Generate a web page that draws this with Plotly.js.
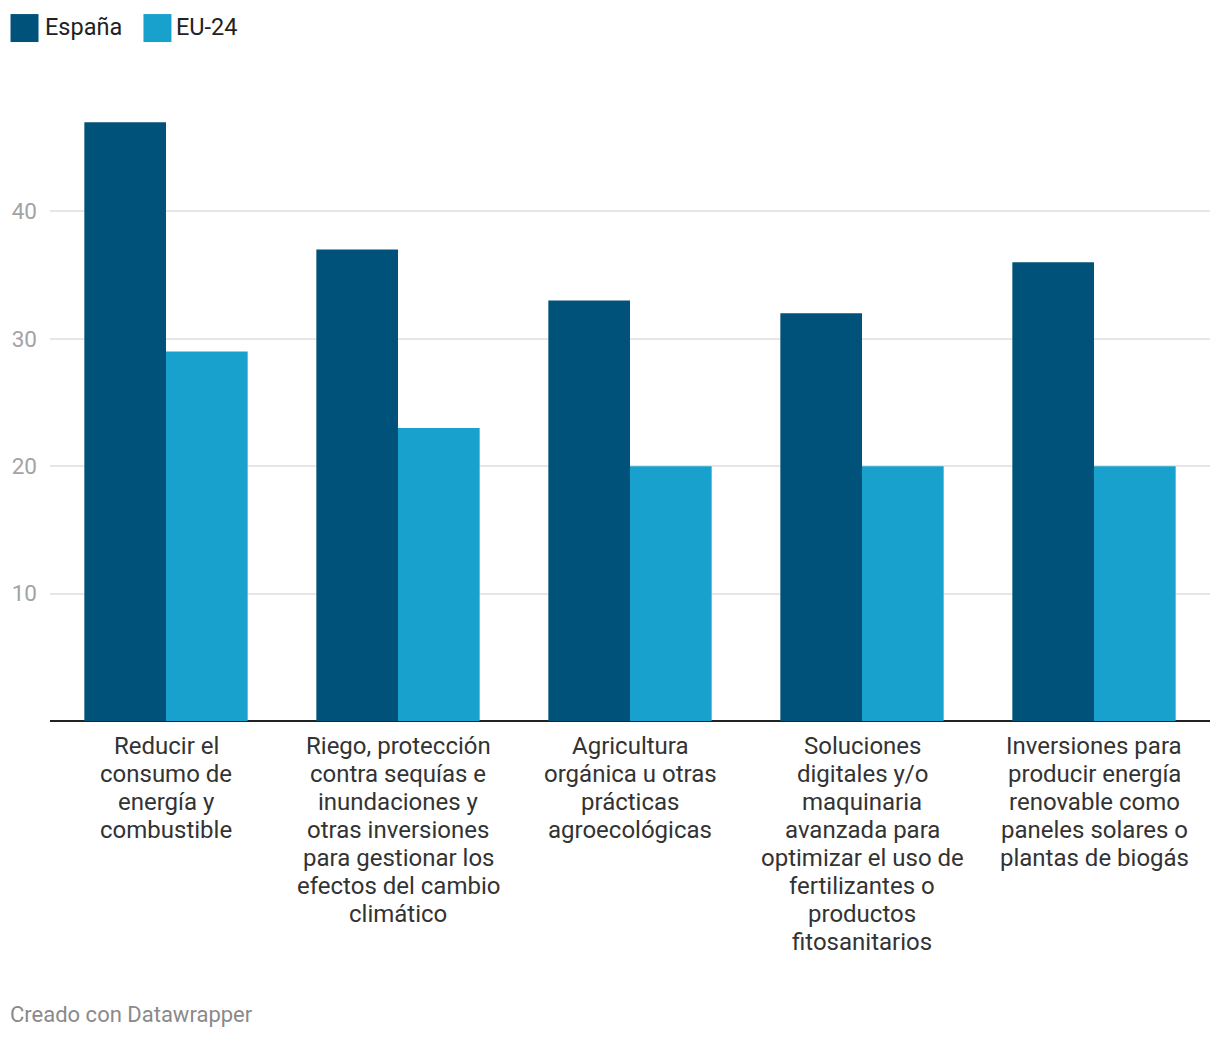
<!DOCTYPE html>
<html>
<head>
<meta charset="utf-8">
<script src="https://cdn.plot.ly/plotly-3.0.1.min.js"></script>
<style>
html,body{margin:0;padding:0;background:#fff;}
#chart{width:1220px;height:1040px;}
</style>
</head>
<body>
<div id="chart"></div>
<script>
const categories = [
  "Reducir el<br>consumo de<br>energía y<br>combustible",
  "Riego, protección<br>contra sequías e<br>inundaciones y<br>otras inversiones<br>para gestionar los<br>efectos del cambio<br>climático",
  "Agricultura<br>orgánica u otras<br>prácticas<br>agroecológicas",
  "Soluciones<br>digitales y/o<br>maquinaria<br>avanzada para<br>optimizar el uso de<br>fertilizantes o<br>productos<br>fitosanitarios",
  "Inversiones para<br>producir energía<br>renovable como<br>paneles solares o<br>plantas de biogás"
];
const seriesNames = ["España", "EU-24"];
const espana = [47, 37, 33, 32, 36];
const eu24 = [29, 23, 20, 20, 20];
const yTicks = [10, 20, 30, 40];

const colors = ["#00527a", "#18a1cd"];

const L = 49.5, R = 10, T = 84, B = 318.5, W = 1220, H = 1040;
const pw = W - L - R, ph = H - T - B;
const px = x => (x - L) / pw;
const py = y => (H - B - y) / ph;

const traces = [
  {type: "bar", x: categories, y: espana, name: seriesNames[0], marker: {color: colors[0], line: {width: 0}}, hoverinfo: "y"},
  {type: "bar", x: categories, y: eu24, name: seriesNames[1], marker: {color: colors[1], line: {width: 0}}, hoverinfo: "y"}
];

const legX = [[10, 42], [143, 174]];
const shapes = legX.map((lx, i) => ({
  type: "rect", xref: "paper", yref: "paper",
  x0: px(lx[0]), x1: px(lx[0] + 28), y0: py(42), y1: py(14),
  fillcolor: colors[i], line: {width: 0}
}));
const annotations = legX.map((lx, i) => ({
  xref: "paper", yref: "paper", x: px(lx[1]), y: py(27),
  xanchor: "left", yanchor: "middle", showarrow: false,
  text: seriesNames[i], font: {family: "Roboto", size: 23.5, color: "#222"}
}));
annotations.push({
  xref: "paper", yref: "paper", x: px(7), y: py(1015),
  xanchor: "left", yanchor: "middle", showarrow: false,
  text: "Creado con Datawrapper", font: {family: "Roboto", size: 22, color: "#8a8a8a"}
});
// category labels, one annotation per line so line spacing matches
categories.forEach(cat => {
  cat.split("<br>").forEach((line, j) => {
    annotations.push({
      xref: "x", yref: "paper", x: cat, y: py(747 + 28 * j),
      xanchor: "center", yanchor: "middle", showarrow: false,
      text: line, font: {family: "Roboto", size: 24, color: "#333"}
    });
  });
});

const layout = {
  width: W, height: H,
  margin: {l: L, r: R, t: T, b: B, pad: 0},
  paper_bgcolor: "#fff", plot_bgcolor: "#fff",
  font: {family: "Roboto", color: "#333"},
  barmode: "group", bargap: 0.296, bargroupgap: 0,
  showlegend: false,
  xaxis: {
    type: "category", showgrid: false, zeroline: false, showline: false,
    ticks: "", showticklabels: false, automargin: false
  },
  yaxis: {
    range: [0, 50], tickvals: yTicks, ticktext: yTicks.map(String),
    showgrid: true, gridcolor: "#e6e6e6", gridwidth: 2,
    zeroline: true, zerolinecolor: "#222", zerolinewidth: 2,
    showline: false, ticks: "", ticklabelstandoff: 12,
    tickfont: {family: "Roboto", size: 22.5, color: "#a3a3a3"},
    automargin: false, fixedrange: true
  },
  shapes: shapes,
  annotations: annotations
};

Plotly.newPlot("chart", traces, layout, {displayModeBar: false, staticPlot: true});
</script>
</body>
</html>
